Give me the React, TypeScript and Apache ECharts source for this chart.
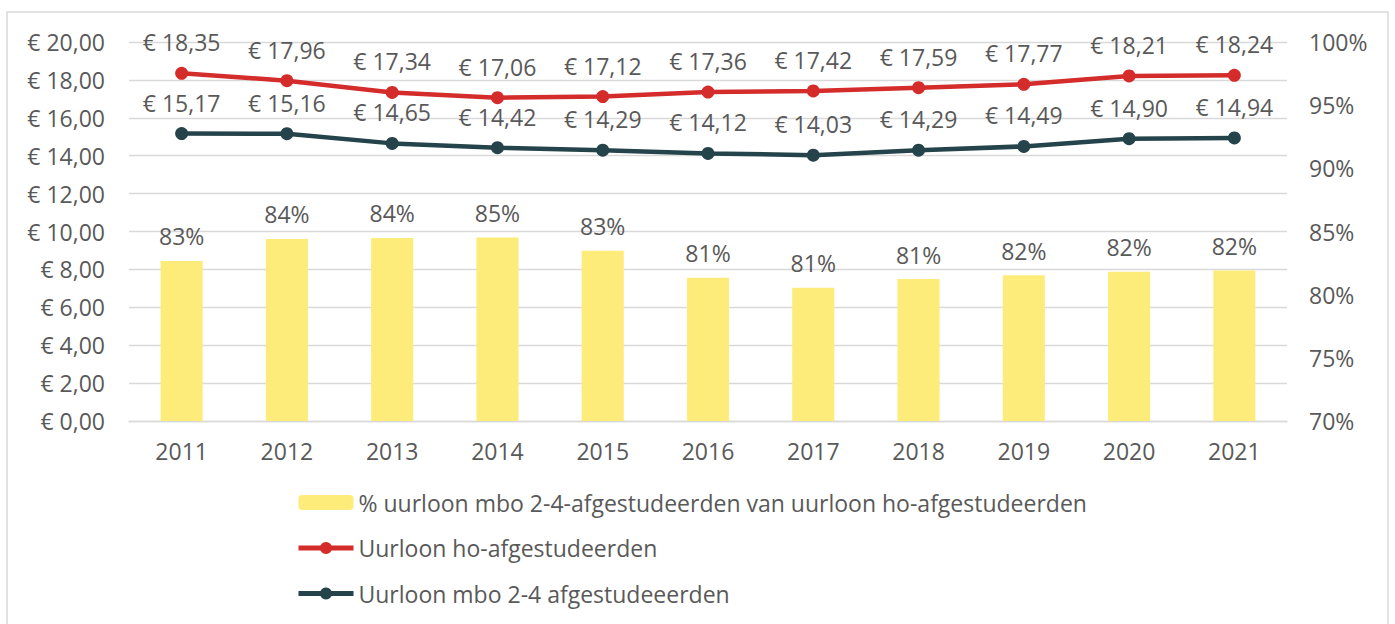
import React, { useEffect, useRef } from "react";
import * as echarts from "echarts";

const years = ["2011", "2012", "2013", "2014", "2015", "2016", "2017", "2018", "2019", "2020", "2021"];
const pctMboOfHo = [82.67, 84.41, 84.49, 84.52, 83.47, 81.34, 80.54, 81.24, 81.54, 81.82, 81.91];
const wageHo = [18.35, 17.96, 17.34, 17.06, 17.12, 17.36, 17.42, 17.59, 17.77, 18.21, 18.24];
const wageMbo = [15.17, 15.16, 14.65, 14.42, 14.29, 14.12, 14.03, 14.29, 14.49, 14.9, 14.94];

const seriesNames = [
  "% uurloon mbo 2-4-afgestudeerden van uurloon ho-afgestudeerden",
  "Uurloon ho-afgestudeerden",
  "Uurloon mbo 2-4 afgestudeeerden",
];

const FONT = "Open Sans";
const FS = 23;
const TEXT = "#595959";
const RED = "#d42b2b";
const DARK = "#25434a";
const euro = (v: number) => "€ " + v.toFixed(2).replace(".", ",");

export default function App() {
  const ref = useRef<HTMLDivElement>(null);
  useEffect(() => {
    if (!ref.current) return;
    const chart = echarts.init(ref.current, undefined, { renderer: "svg" });
    chart.setOption({
      animation: false,
      textStyle: { fontFamily: FONT },
      graphic: [
        {
          type: "rect",
          shape: { x: 7, y: 12, width: 1381, height: 620 },
          style: { fill: "none", stroke: "#d9d9d9", lineWidth: 1.5 },
          silent: true,
        },
      ],
      grid: { left: 129, right: 108, top: 42, height: 379 },
      xAxis: {
        type: "category",
        data: years,
        axisLine: { lineStyle: { color: "#d9d9d9", width: 1.3 } },
        axisTick: { show: false },
        axisLabel: { color: TEXT, fontSize: FS, margin: 18, fontFamily: FONT },
      },
      yAxis: [
        {
          type: "value",
          min: 0,
          max: 20,
          interval: 2,
          axisLine: { show: false },
          axisTick: { show: false },
          splitLine: { lineStyle: { color: "#d9d9d9", width: 1.3 } },
          axisLabel: { color: TEXT, fontSize: FS, margin: 24, fontFamily: FONT, formatter: euro },
        },
        {
          type: "value",
          min: 70,
          max: 100,
          interval: 5,
          axisLine: { show: false },
          axisTick: { show: false },
          splitLine: { show: false },
          axisLabel: { color: TEXT, fontSize: FS, margin: 22, fontFamily: FONT, formatter: (v: number) => v + "%" },
        },
      ],
      legend: {
        orient: "vertical",
        left: 296,
        top: 491,
        padding: 0,
        itemWidth: 55,
        itemHeight: 15,
        itemGap: 22.5,
        textStyle: { color: TEXT, fontSize: FS, fontFamily: FONT },
        data: [
          { name: seriesNames[0] },
          { name: seriesNames[1], lineStyle: { width: 5, color: RED }, itemStyle: { color: RED } },
          { name: seriesNames[2], lineStyle: { width: 5, color: DARK }, itemStyle: { color: DARK } },
        ],
      },
      series: [
        {
          name: seriesNames[0],
          type: "bar",
          yAxisIndex: 1,
          data: pctMboOfHo,
          barWidth: "40%",
          itemStyle: { color: "#fdec7a" },
          label: {
            show: true,
            position: "top",
            distance: 13,
            color: TEXT,
            fontSize: FS,
            fontFamily: FONT,
            formatter: (p: any) => Math.round(p.value) + "%",
          },
        },
        {
          name: seriesNames[1],
          type: "line",
          data: wageHo,
          symbol: "circle",
          symbolSize: 13,
          lineStyle: { color: RED, width: 4.5 },
          itemStyle: { color: RED },
          label: {
            show: true,
            position: "top",
            distance: 13,
            color: TEXT,
            fontSize: FS,
            fontFamily: FONT,
            formatter: (p: any) => euro(p.value),
          },
        },
        {
          name: seriesNames[2],
          type: "line",
          data: wageMbo,
          symbol: "circle",
          symbolSize: 13,
          lineStyle: { color: DARK, width: 4.5 },
          itemStyle: { color: DARK },
          label: {
            show: true,
            position: "top",
            distance: 13,
            color: TEXT,
            fontSize: FS,
            fontFamily: FONT,
            formatter: (p: any) => euro(p.value),
          },
        },
      ],
    });
    return () => chart.dispose();
  }, []);
  return (
    <div
      ref={ref}
      style={{ position: "fixed", left: 0, top: 0, width: 1395, height: 624, background: "#fff" }}
    />
  );
}
